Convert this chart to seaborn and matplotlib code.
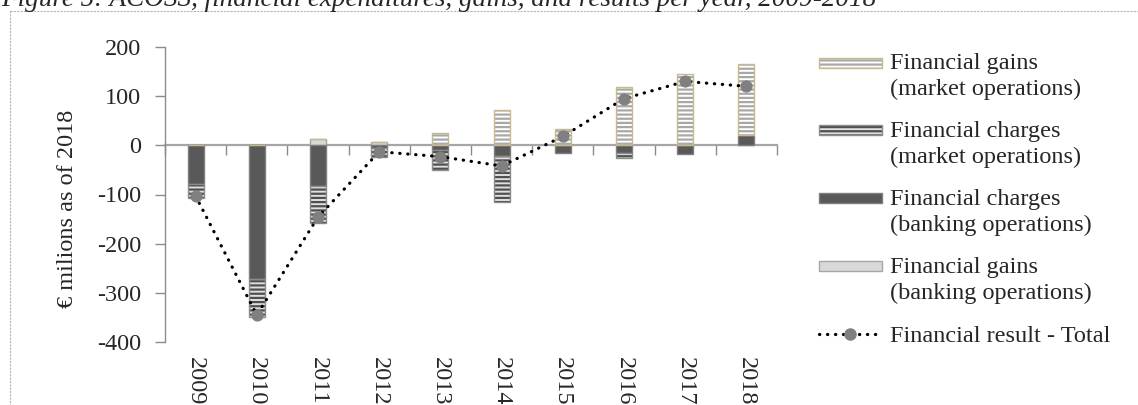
import numpy as np
import matplotlib
matplotlib.use("Agg")
import matplotlib.pyplot as plt
import matplotlib.patches as mpatches
import matplotlib.lines as mlines
import seaborn as sns

# ──────────────────────────────────────────
# Data (EUR millions as of 2018)
# ──────────────────────────────────────────
years = ["2009", "2010", "2011", "2012", "2013", "2014", "2015", "2016", "2017", "2018"]
gains_banking   = [0, 0, 12, 7, 0, 0, 0, 0, 0, 0]
charges_banking = [-78, -272, -83, -5, -10, -22, -15, -15, -17, 21]
charges_market  = [-30, -77, -75, -18, -40, -93, 0, -10, 0, 0]
gains_market    = [0, 0, 0, 0, 26, 71, 33, 119, 146, 144]
total_result    = [-103, -345, -146, -13, -23, -42, 18, 95, 130, 120]

labels = [
    "Financial gains\n(market operations)",
    "Financial charges\n(market operations)",
    "Financial charges\n(banking operations)",
    "Financial gains\n(banking operations)",
]
total_label = "Financial result - Total"
title = "Figure 5: ACOSS, financial expenditures, gains, and results per year, 2009-2018"
ylabel = "€ milions as of 2018"
y_ticks = [-400, -300, -200, -100, 0, 100, 200]

# ──────────────────────────────────────────
# Setup
# ──────────────────────────────────────────
sns.set_theme(style="white")
plt.rcParams["font.family"] = ["Liberation Serif", "DejaVu Serif"]
plt.rcParams["axes.unicode_minus"] = False
plt.rcParams["hatch.linewidth"] = 1.6

FS = 17.5
W, H = 1138, 405
GRAY = "#8c8c8c"

# style per series: face, hatch colour, hatch, outline
styles = {
    "gains_banking":   dict(face="#d9d9d9", hcol=None, hatch=None, edge="#a6a6a6"),
    "charges_banking": dict(face="#595959", hcol=None, hatch=None, edge="#7f7f7f"),
    "charges_market":  dict(face="#e0e0e0", hcol="#4f4f4f", hatch="----", edge="#8c8c8c"),
    "gains_market":    dict(face="white", hcol="#a8a8a8", hatch="----", edge="#c8b88e"),
}
series = [
    ("gains_banking", gains_banking),
    ("charges_banking", charges_banking),
    ("charges_market", charges_market),
    ("gains_market", gains_market),
]

fig = plt.figure(figsize=(W / 100, H / 100), dpi=100)
ax = fig.add_axes([165 / W, 1 - 342 / H, 612 / W, 295 / H])

x = np.arange(len(years))
pos_base = np.zeros(len(years))
neg_base = np.zeros(len(years))
bw = 0.26


def draw_bar(a, xs, vals, bottom, st):
    if st["hatch"]:
        a.bar(xs, vals, bottom=bottom, width=bw, color=st["face"],
              edgecolor=st["hcol"], hatch=st["hatch"], linewidth=0, zorder=2)
        a.bar(xs, vals, bottom=bottom, width=bw, fill=False,
              edgecolor=st["edge"], linewidth=1.0, zorder=3)
    else:
        a.bar(xs, vals, bottom=bottom, width=bw, color=st["face"],
              edgecolor=st["edge"], linewidth=1.0, zorder=2)


for key, vals in series:
    v = np.array(vals, dtype=float)
    bottom = np.where(v >= 0, pos_base, neg_base)
    draw_bar(ax, x, v, bottom, styles[key])
    pos_base = pos_base + np.where(v > 0, v, 0)
    neg_base = neg_base + np.where(v < 0, v, 0)

# total result line
sns.lineplot(x=x, y=total_result, ax=ax, color="black", linewidth=2.3,
             linestyle=(0, (0.1, 2.4)), marker="o", markersize=8,
             markerfacecolor="#808080", markeredgecolor="#808080", zorder=5)
for ln in ax.get_lines():
    ln.set_dash_capstyle("round")

# axes styling
ax.set_xlim(-0.5, len(years) - 0.5)
ax.set_ylim(-400, 200)
ax.set_yticks(y_ticks)
ax.set_yticklabels([str(t) for t in y_ticks], fontsize=FS)
for s in ["top", "right"]:
    ax.spines[s].set_visible(False)
ax.spines["left"].set_color(GRAY)
ax.spines["left"].set_linewidth(1.0)
ax.spines["bottom"].set_position(("data", 0))
ax.spines["bottom"].set_color("#a6a6a6")
ax.spines["bottom"].set_linewidth(1.6)
ax.spines["bottom"].set_zorder(1)
ax.tick_params(axis="y", direction="out", length=7, width=1, color=GRAY, pad=10,
               left=True)
ax.set_xticks(np.arange(len(years) + 1) - 0.5)
ax.set_xticklabels([])
ax.tick_params(axis="x", direction="out", length=7, width=1, color=GRAY, bottom=True)
for i, yr in enumerate(years):
    ax.annotate(yr, xy=(i, 0), xycoords=("data", "axes fraction"),
                xytext=(0, -11), textcoords="offset points",
                rotation=-90, ha="center", va="top", fontsize=FS)
ax.set_ylabel(ylabel, fontsize=FS)
ax.yaxis.set_label_coords(-0.142, 0.451)
ax.patch.set_alpha(0)

# ──────────────────────────────────────────
# Overlay: frame, title and legend (pixel coordinates)
# ──────────────────────────────────────────
lax = fig.add_axes([0, 0, 1, 1], zorder=-1)
lax.set_xlim(0, W)
lax.set_ylim(H, 0)
lax.axis("off")
lax.add_patch(mpatches.Rectangle((10, 11), W + 50, H + 50, fill=False,
                                 edgecolor="#b5b5b5", linewidth=0.8,
                                 linestyle=(0, (2, 1))))
fig.text(1 / W, 1 - 6 / H, title, style="italic", fontsize=19.5, va="baseline", ha="left")

leg = fig.add_axes([0, 0, 1, 1])
leg.set_xlim(0, W)
leg.set_ylim(H, 0)
leg.axis("off")
legend_keys = ["gains_market", "charges_market", "charges_banking", "gains_banking"]
centers = [62.5, 129.5, 197.5, 265.5]
for key, lab, cy in zip(legend_keys, labels, centers):
    st = styles[key]
    if st["hatch"]:
        leg.add_patch(mpatches.Rectangle((819, cy - 5), 63, 10, facecolor=st["face"],
                                         edgecolor=st["hcol"], hatch=st["hatch"],
                                         linewidth=0))
        leg.add_patch(mpatches.Rectangle((819, cy - 5), 63, 10, fill=False,
                                         edgecolor=st["edge"], linewidth=1.0))
    else:
        leg.add_patch(mpatches.Rectangle((819, cy - 5), 63, 10, facecolor=st["face"],
                                         edgecolor=st["edge"], linewidth=1.0))
    line1, line2 = lab.split("\n")
    leg.text(890, cy + 7, line1, fontsize=FS, va="baseline", ha="left")
    leg.text(890, cy + 33, line2, fontsize=FS, va="baseline", ha="left")

ly = 334
lh = mlines.Line2D([819, 882], [ly, ly], color="black", linewidth=2.3,
                   linestyle=(0, (0.1, 2.4)), dash_capstyle="round")
leg.add_line(lh)
leg.plot([850.5], [ly], marker="o", markersize=8, color="#808080")
leg.text(890, ly + 7.5, total_label, fontsize=FS, va="baseline", ha="left")

fig.savefig("out.png", dpi=100)
